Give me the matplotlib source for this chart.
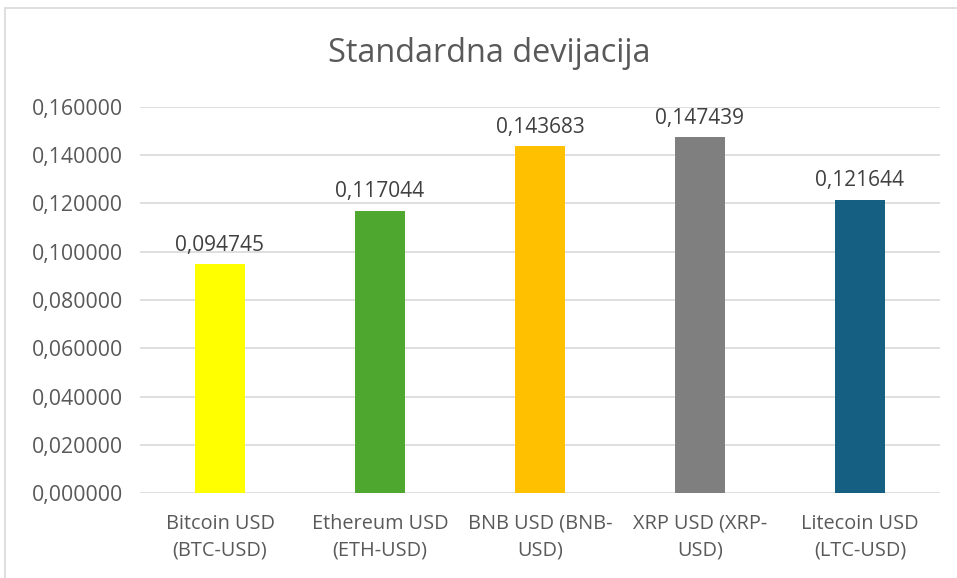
import matplotlib
matplotlib.use("Agg")
import matplotlib.pyplot as plt
from matplotlib.patches import Rectangle
from matplotlib.ticker import FuncFormatter, MultipleLocator

categories = ["Bitcoin USD\n(BTC-USD)", "Ethereum USD\n(ETH-USD)", "BNB USD (BNB-\nUSD)",
              "XRP USD (XRP-\nUSD)", "Litecoin USD\n(LTC-USD)"]
values = [0.094745, 0.117044, 0.143683, 0.147439, 0.121644]
colors = ["#FFFF00", "#4EA72E", "#FFC000", "#7F7F7F", "#156082"]

plt.rcParams['font.family'] = ['Open Sans', 'DejaVu Sans']

W, H = 957, 578
fig = plt.figure(figsize=(W / 100, H / 100), dpi=100)
fig.patch.set_facecolor("white")

# outer chart border
fig.add_artist(Rectangle((5 / W, -0.1), 1.2, 1 - 8 / H + 0.1, transform=fig.transFigure,
                         fill=False, edgecolor="#D9D9D9", linewidth=1.2))

left, right, top, bottom = 140, 940, 107, 493
ax = fig.add_axes([left / W, 1 - bottom / H, (right - left) / W, (bottom - top) / H])

x = list(range(len(values)))
bars = ax.bar(x, values, width=0.3125, color=colors, zorder=3)
ax.set_xlim(-0.5, len(values) - 0.5)
ax.set_ylim(0, 0.16)
ax.yaxis.set_major_locator(MultipleLocator(0.02))
ax.yaxis.set_major_formatter(FuncFormatter(lambda v, p: f"{v:.6f}".replace(".", ",")))
ax.grid(axis="y", color="#D9D9D9", linewidth=1.2, zorder=0)
for s in ax.spines.values():
    s.set_visible(False)
ax.tick_params(axis="both", length=0, colors="#595959")
ax.tick_params(axis="y", pad=12, labelsize=15.3)
ax.tick_params(axis="x", pad=15, labelsize=14.3)
ax.set_xticks(x)
ax.set_xticklabels(categories, linespacing=1.45)

for xi, v in zip(x, values):
    ax.annotate(f"{v:.6f}".replace(".", ","), (xi, v), xytext=(0, 6), textcoords="offset points",
                ha="center", va="bottom", fontsize=15, color="#404040")

fig.text(489 / W, 1 - 54 / H, "Standardna devijacija", ha="center", va="center",
         fontsize=23.4, color="#595959")

fig.savefig("out.png", dpi=100)
